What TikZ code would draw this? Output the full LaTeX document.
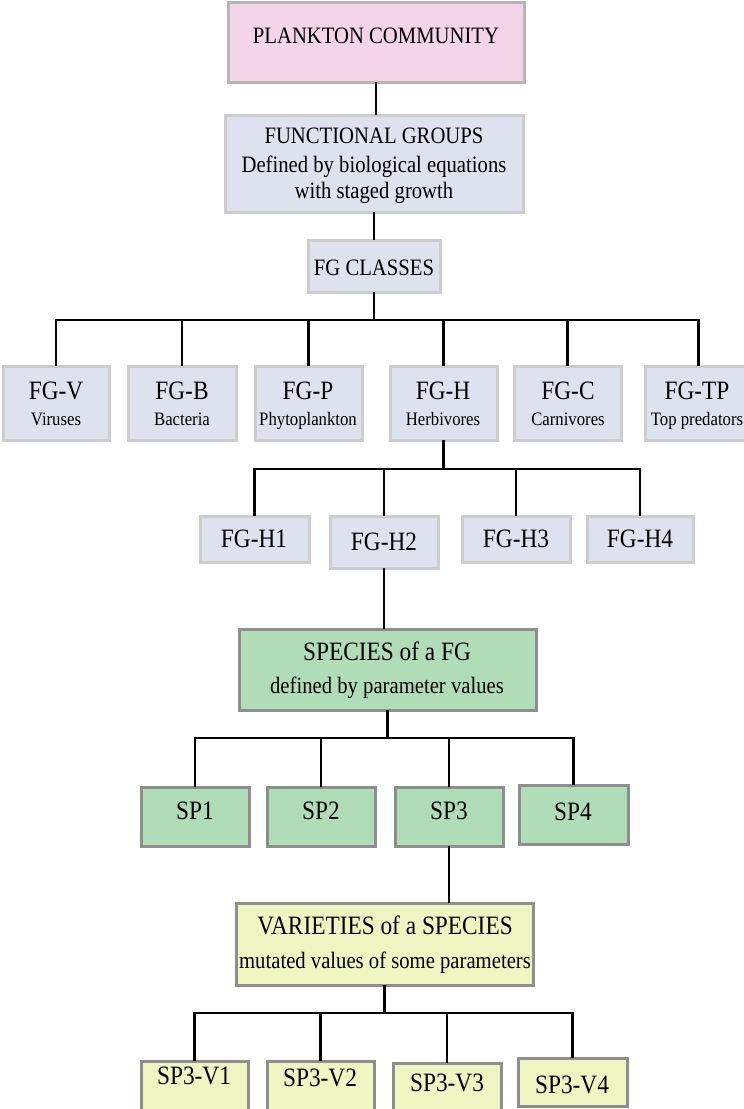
\documentclass[tikz,border=0pt]{standalone}
\usepackage{fontspec}
\setmainfont{Liberation Serif}[FakeStretch=0.88]
\definecolor{pinkfill}{HTML}{F4D4E9}
\definecolor{pinkline}{HTML}{B6B6B6}
\definecolor{bluefill}{HTML}{DDE2EE}
\definecolor{blueline}{HTML}{CDCDCD}
\definecolor{greenfill}{HTML}{B1DCB8}
\definecolor{yellowfill}{HTML}{EEF5C2}
\definecolor{darkline}{HTML}{8E8E8E}
\newcommand{\boxat}[6]{\node[#2, minimum width={(#5)-(#3)}, minimum height={(#6)-(#4)}] (#1) at ({((#3)+(#5))/2},{((#4)+(#6))/2}) {};}
\newcommand{\fs}[1]{\fontsize{#1}{#1}\selectfont}
\begin{document}
\begin{tikzpicture}[x=1pt,y=-1pt,
  box/.style={draw, line width=3pt, inner sep=0pt, outer sep=0pt},
  pinkbox/.style={box, fill=pinkfill, draw=pinkline},
  bluebox/.style={box, fill=bluefill, draw=blueline},
  greenbox/.style={box, fill=greenfill, draw=darkline},
  yellowbox/.style={box, fill=yellowfill, draw=darkline},
  lbl/.style={anchor=base, inner sep=0pt, text=black},
  big/.style={lbl, font=\fs{26.5}},
  mid/.style={lbl, font=\fs{23.5}},
  small/.style={lbl, font=\fs{19}},
  conn/.style={draw=black, line width=2.2pt}]
\useasboundingbox (0,0) rectangle (744,1109);
\clip (0,0) rectangle (744,1109);
\fill[white] (0,0) rectangle (744,1109);

\coordinate (b1) at (0,320);
\coordinate (b2) at (0,469);
\coordinate (b3) at (0,738);
\coordinate (b4) at (0,1013);

% boxes
\boxat{pc}{pinkbox}{228}{2}{524}{82}
\boxat{fg}{bluebox}{225}{115}{523}{212}
\boxat{cls}{bluebox}{308}{240}{440}{292}

\boxat{fgv}{bluebox}{3}{366}{109}{440}
\boxat{fgb}{bluebox}{128}{366}{236}{440}
\boxat{fgp}{bluebox}{255}{366}{362}{440}
\boxat{fgh}{bluebox}{390}{366}{497}{440}
\boxat{fgc}{bluebox}{514}{366}{621}{440}
\boxat{fgtp}{bluebox}{645}{366}{752}{440}

\boxat{h1}{bluebox}{200}{516}{309}{562}
\boxat{h2}{bluebox}{330}{516}{438}{568}
\boxat{h3}{bluebox}{462}{516}{570}{562}
\boxat{h4}{bluebox}{587}{516}{693}{562}

\boxat{spc}{greenbox}{239}{629}{536}{710}
\boxat{sp1}{greenbox}{141}{787}{249}{846}
\boxat{sp2}{greenbox}{267}{787}{375}{846}
\boxat{sp3}{greenbox}{395}{787}{503}{846}
\boxat{sp4}{greenbox}{519}{785}{628}{844}

\boxat{var}{yellowbox}{236}{903}{533}{985}
\boxat{v1}{yellowbox}{141}{1061}{248}{1110}
\boxat{v2}{yellowbox}{267}{1061}{374}{1110}
\boxat{v3}{yellowbox}{393}{1063}{501}{1110}
\boxat{v4}{yellowbox}{518}{1058}{627}{1106}

% connectors
\draw[conn] (pc.south) -- (pc.south|-fg.north);
\draw[conn] (fg.south) -- (fg.south|-cls.north);
\foreach \n in {fgv,fgb,fgp,fgh,fgc,fgtp}
  \draw[conn] (cls.south) -- (cls.south|-b1) -| (\n.north);
\foreach \n in {h1,h2,h3,h4}
  \draw[conn] (fgh.south) -- (fgh.south|-b2) -| (\n.north);
\draw[conn] (h2.south) -- (h2.south|-spc.north);
\foreach \n in {sp1,sp2,sp3,sp4}
  \draw[conn] (spc.south) -- (spc.south|-b3) -| (\n.north);
\draw[conn] (sp3.south) -- (sp3.south|-var.north);
\foreach \n in {v1,v2,v3,v4}
  \draw[conn] (var.south) -- (var.south|-b4) -| (\n.north);

% labels
\node[mid] (pct) at (376,43) {PLANKTON COMMUNITY};
\node[mid] (fgt1) at (374,143) {FUNCTIONAL GROUPS};
\node[mid] (fgt2) at (374,172) {Defined by biological equations};
\node[mid] (fgt3) at (374,198) {with staged growth};
\node[mid] (clst) at (374,275) {FG CLASSES};

\node[big] (fgvt) at (56,399) {FG-V};
\node[small] (fgvs) at (56,425) {Viruses};
\node[big] (fgbt) at (182,399) {FG-B};
\node[small] (fgbs) at (182,425) {Bacteria};
\node[big] (fgpt) at (308,399) {FG-P};
\node[small] (fgps) at (308,425) {Phytoplankton};
\node[big] (fght) at (443,399) {FG-H};
\node[small] (fghs) at (443,425) {Herbivores};
\node[big] (fgct) at (568,399) {FG-C};
\node[small] (fgcs) at (568,425) {Carnivores};
\node[big] (fgtpt) at (697,399) {FG-TP};
\node[small] (fgtps) at (697,425) {Top predators};

\node[big] (h1t) at (254,547) {FG-H1};
\node[big] (h2t) at (384,550) {FG-H2};
\node[big] (h3t) at (516,547) {FG-H3};
\node[big] (h4t) at (640,547) {FG-H4};

\node[big] (spct1) at (387,660) {SPECIES of a FG};
\node[mid] (spct2) at (387,693) {defined by parameter values};
\node[big] (sp1t) at (195,819) {SP1};
\node[big] (sp2t) at (321,819) {SP2};
\node[big] (sp3t) at (449,819) {SP3};
\node[big] (sp4t) at (573,820) {SP4};

\node[big] (vart1) at (385,934) {VARIETIES of a SPECIES};
\node[mid] (vart2) at (385,968) {mutated values of some parameters};
\node[big] (v1t) at (194,1084) {SP3-V1};
\node[big] (v2t) at (320,1086) {SP3-V2};
\node[big] (v3t) at (447,1091) {SP3-V3};
\node[big] (v4t) at (572,1093) {SP3-V4};
\end{tikzpicture}
\end{document}
